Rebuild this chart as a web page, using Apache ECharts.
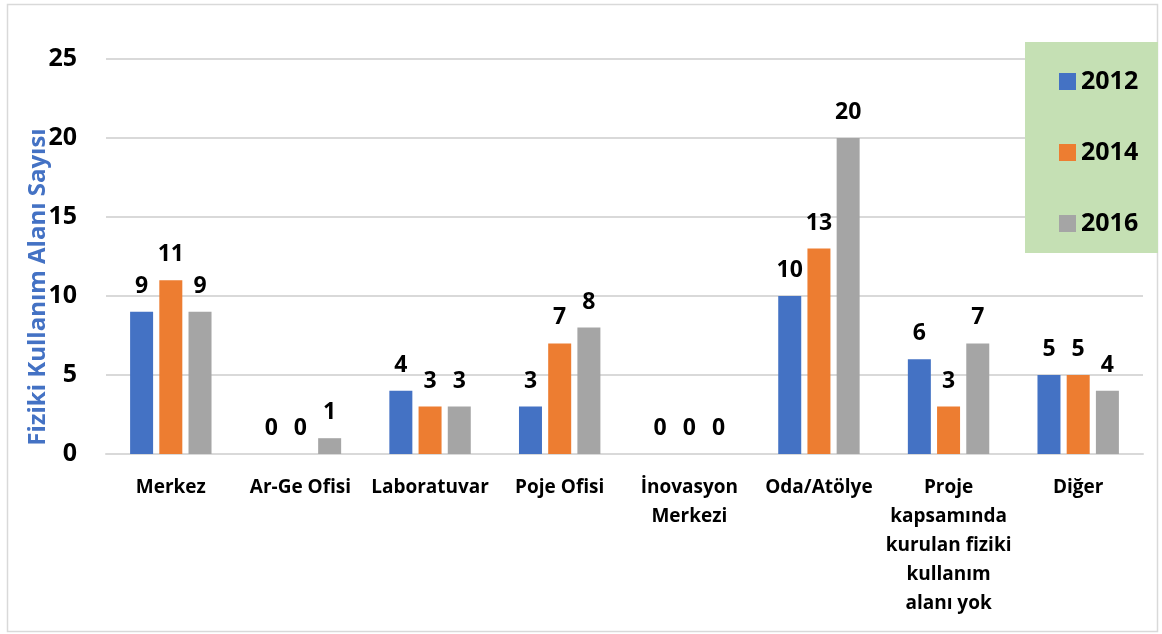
<!DOCTYPE html>
<html>
<head>
<meta charset="utf-8">
<script src="https://cdn.jsdelivr.net/npm/echarts@6/dist/echarts.min.js"></script>
<style>
html,body{margin:0;padding:0;background:#fff;}
#c{width:1162px;height:634px;}
</style>
</head>
<body>
<div id="c"></div>
<script>
var categories = ['Merkez', 'Ar-Ge Ofisi', 'Laboratuvar', 'Poje Ofisi', 'İnovasyon\nMerkezi', 'Oda/Atölye', 'Proje\nkapsamında\nkurulan fiziki\nkullanım\nalanı yok', 'Diğer'];
var seriesNames = ['2012', '2014', '2016'];
var values2012 = [9, 0, 4, 3, 0, 10, 6, 5];
var values2014 = [11, 0, 3, 7, 0, 13, 3, 5];
var values2016 = [9, 1, 3, 8, 0, 20, 7, 4];
var yTitle = 'Fiziki Kullanım Alanı Sayısı';

var FONT = '"Open Sans", "Noto Sans", sans-serif';
var colors = ['#4472C4', '#ED7D31', '#A5A5A5'];

var chart = echarts.init(document.getElementById('c'), null, {renderer: 'canvas'});

function mk(name, data, color) {
  return {
    name: name,
    type: 'bar',
    data: data,
    barWidth: 23,
    barGap: '27%',
    itemStyle: {color: color},
    label: {
      show: true,
      position: 'top',
      distance: 14,
      color: '#000',
      fontFamily: FONT,
      fontWeight: 'bold',
      fontSize: 23
    }
  };
}

chart.setOption({
  animation: false,
  backgroundColor: '#fff',
  color: colors,
  grid: {left: 106, right: 19, top: 59, bottom: 180, containLabel: false},
  xAxis: {
    type: 'category',
    data: categories,
    axisLine: {show: true, lineStyle: {color: '#d9d9d9', width: 2}},
    axisTick: {show: false},
    axisLabel: {
      interval: 0,
      margin: 19,
      color: '#000',
      fontFamily: FONT,
      fontWeight: 'bold',
      fontSize: 19,
      lineHeight: 29
    }
  },
  yAxis: {
    type: 'value',
    min: 0,
    max: 25,
    interval: 5,
    axisLine: {show: false},
    axisTick: {show: false},
    splitLine: {lineStyle: {color: '#d9d9d9', width: 2}},
    axisLabel: {
      margin: 29,
      color: '#000',
      fontFamily: FONT,
      fontWeight: 'bold',
      fontSize: 25
    }
  },
  legend: {
    orient: 'vertical',
    left: 1054,
    top: 64,
    z: 10,
    icon: 'rect',
    itemWidth: 17,
    itemHeight: 17,
    itemGap: 46,
    textStyle: {
      color: '#000',
      fontFamily: FONT,
      fontWeight: 'bold',
      fontSize: 25,
      lineHeight: 25
    },
    data: seriesNames
  },
  graphic: [
    {
      type: 'rect',
      z: 5,
      shape: {x: 7.5, y: 4.5, width: 1150, height: 627},
      style: {fill: 'none', stroke: '#d9d9d9', lineWidth: 1.5}
    },
    {
      type: 'rect',
      z: 6,
      shape: {x: 1025, y: 42, width: 133, height: 211},
      style: {fill: '#C5E0B4'}
    },
    {
      type: 'text',
      z: 7,
      x: 38,
      y: 287,
      rotation: Math.PI / 2,
      style: {
        text: yTitle,
        fill: '#4472C4',
        font: 'bold 24px ' + FONT,
        align: 'center',
        verticalAlign: 'middle'
      }
    }
  ],
  series: [
    mk(seriesNames[0], values2012, colors[0]),
    mk(seriesNames[1], values2014, colors[1]),
    mk(seriesNames[2], values2016, colors[2])
  ]
});
</script>
</body>
</html>
